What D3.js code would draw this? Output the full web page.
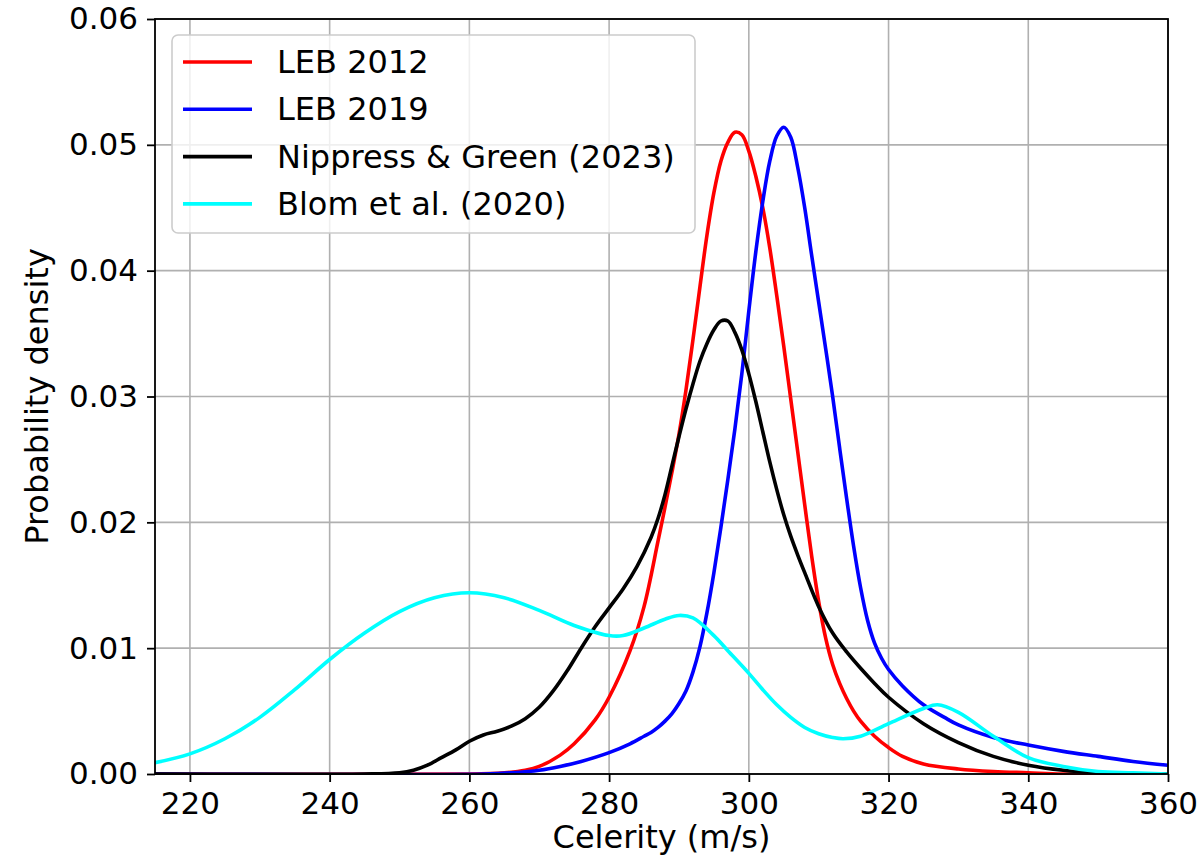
<!DOCTYPE html>
<html>
<head>
<meta charset="utf-8">
<script src="https://cdn.jsdelivr.net/npm/d3@7"></script>
<style>
  body { margin: 0; background: #fff; }
  text { font-family: "DejaVu Sans", sans-serif; fill: #000; }
</style>
</head>
<body>
<div id="chart"></div>
<script>
// celerity (m/s) , probability density
const leb2012 = [[215,0],[260,0],[265,0.0001],[268,0.0003],[270,0.0006],[273,0.0015],[275,0.0024],[278,0.0043],
  [280,0.0061],[283,0.0098],[285,0.0133],[287,0.0185],[288,0.0212],[289,0.0240],[290,0.0270],[291,0.0305],
  [292,0.0345],[293,0.0387],[294,0.0428],[295,0.0462],[296,0.0487],[297,0.0502],[298,0.0510],[299,0.0508],
  [300,0.0495],[301,0.0475],[302,0.0450],[303,0.0418],[304,0.0380],[305,0.0340],[306,0.0298],[307,0.0256],
  [308,0.0214],[309,0.0173],[310,0.0137],[311,0.0108],[312,0.0087],[313,0.0072],[314,0.0060],[315,0.0050],
  [316,0.0042],[318,0.0030],[320,0.0021],[322,0.0014],[325,0.0008],[330,0.0004],[335,0.0002],[340,0.0001],
  [345,0],[360,0]];

const leb2019 = [[215,0],[262,0],[266,0.0001],[270,0.0003],[273,0.0006],[276,0.0010],[280,0.0017],[283,0.0024],
  [285,0.0030],[286,0.0033],[287,0.0037],[288,0.0042],[289,0.0048],[290,0.0056],[291,0.0066],[292,0.0081],
  [293,0.0101],[294,0.0128],[295,0.0160],[296,0.0196],[297,0.0234],[298,0.0274],[299,0.0318],[300,0.0368],
  [301,0.0415],[302,0.0455],[303,0.0487],[304,0.0507],[305,0.0514],[306,0.0506],[307,0.0482],[308,0.0450],
  [309,0.0412],[310,0.0375],[311,0.0338],[312,0.0300],[313,0.0259],[314,0.0219],[315,0.0181],[316,0.0148],
  [317,0.0122],[318,0.0104],[319,0.0092],[320,0.0083],[322,0.0070],[325,0.0055],[328,0.0045],[330,0.0039],
  [335,0.0029],[340,0.0023],[345,0.0018],[350,0.0014],[355,0.0010],[360,0.0007]];

const nippress = [[215,0],[245,0],[250,0.0001],[252,0.0003],[254,0.0007],[256,0.0013],[258,0.0019],[260,0.0026],
  [262,0.0031],[264,0.0034],[266,0.0038],[268,0.0044],[270,0.0053],[272,0.0066],[274,0.0082],[276,0.0100],
  [278,0.0117],[280,0.0132],[282,0.0147],[284,0.0165],[286,0.0188],[287,0.0203],[288,0.0222],[289,0.0245],
  [290,0.0268],[291,0.0290],[292,0.0310],[293,0.0328],[294,0.0342],[295,0.0353],[296,0.0360],[297,0.0360],
  [298,0.0351],[299,0.0337],[300,0.0318],[301,0.0296],[302,0.0272],[303,0.0248],[304,0.0226],[305,0.0206],
  [306,0.0189],[307,0.0174],[308,0.0160],[310,0.0133],[312,0.0112],[314,0.0097],[316,0.0084],[318,0.0072],
  [320,0.0061],[325,0.0040],[330,0.0025],[335,0.0014],[340,0.0007],[345,0.0003],[350,0.0001],[355,0],[360,0]];

const blom = [[215,0.0009],[220,0.0016],[225,0.0028],[230,0.0045],[235,0.0067],[240,0.0091],[245,0.0112],
  [250,0.0129],[255,0.0140],[260,0.0144],[265,0.0140],[270,0.0130],[275,0.0118],[280,0.0110],[282,0.0110],
  [285,0.0116],[288,0.0123],[290,0.0126],[292,0.0124],[295,0.0110],[297,0.0098],[300,0.0080],[302,0.0067],
  [304,0.0055],[306,0.0045],[308,0.0037],[310,0.0032],[312,0.0029],[313.5,0.0028],[316,0.0030],[320,0.0040],
  [325,0.0052],[327,0.0055],[330,0.0049],[335,0.0030],[340,0.0013],[345,0.0006],[350,0.0002],[355,0.0001],
  [360,0]];

const seriesNames = ["LEB 2012", "LEB 2019", "Nippress & Green (2023)", "Blom et al. (2020)"];
const seriesColors = ["#ff0000", "#0000ff", "#000000", "#00ffff"];
const xTicks = [220, 240, 260, 280, 300, 320, 340, 360];
const yTicks = [0, 0.01, 0.02, 0.03, 0.04, 0.05, 0.06];

const allSeries = [leb2012, leb2019, nippress, blom];

margin = ({top: 19, right: 36, bottom: 87, left: 155});
visWidth = 1204 - margin.left - margin.right;
visHeight = 861 - margin.top - margin.bottom;

const svg = d3.select("#chart").append("svg")
  .attr("width", 1204)
  .attr("height", 861);

x = d3.scaleLinear().domain([215, 360]).range([0, visWidth]);
y = d3.scaleLinear().domain([0, 0.06]).range([visHeight, 0]);

const g = svg.append("g")
  .attr("transform", `translate(${margin.left}, ${margin.top})`);

// grid
g.append("g").selectAll("line").data(xTicks).enter().append("line")
  .attr("x1", d => x(d)).attr("x2", d => x(d))
  .attr("y1", 0).attr("y2", visHeight)
  .attr("stroke", "#b0b0b0").attr("stroke-width", 1.6);
g.append("g").selectAll("line").data(yTicks).enter().append("line")
  .attr("x1", 0).attr("x2", visWidth)
  .attr("y1", d => y(d)).attr("y2", d => y(d))
  .attr("stroke", "#b0b0b0").attr("stroke-width", 1.6);

// lines
svg.append("clipPath").attr("id", "clip")
  .append("rect").attr("width", visWidth).attr("height", visHeight + 2).attr("y", -1);

const line = d3.line()
  .x(d => x(d[0]))
  .y(d => y(Math.max(0, d[1])))
  .curve(d3.curveCatmullRom.alpha(0.5));

g.append("g").attr("clip-path", "url(#clip)")
  .selectAll("path").data(allSeries).enter().append("path")
  .attr("d", line)
  .attr("fill", "none")
  .attr("stroke", (d, i) => seriesColors[i])
  .attr("stroke-width", 3.6)
  .attr("stroke-linejoin", "round");

// axes
const xAxis = g.append("g")
  .attr("transform", "translate(0," + visHeight + ")")
  .call(d3.axisBottom(x).tickValues(xTicks).tickSize(8).tickPadding(10).tickFormat(d3.format("d")));
const yAxis = g.append("g")
  .call(d3.axisLeft(y).tickValues(yTicks).tickSize(8).tickPadding(9).tickFormat(d3.format(".2f")));

[xAxis, yAxis].forEach(a => {
  a.select(".domain").remove();
  a.selectAll(".tick line").attr("stroke", "#000").attr("stroke-width", 1.8);
  a.selectAll(".tick text").style("font-size", "31px").style("font-family", "DejaVu Sans");
});

// frame
g.append("rect")
  .attr("width", visWidth).attr("height", visHeight)
  .attr("fill", "none").attr("stroke", "#000").attr("stroke-width", 1.8);

// axis labels
svg.append("text")
  .attr("x", margin.left + visWidth / 2)
  .attr("y", 848)
  .attr("text-anchor", "middle")
  .style("font-size", "32px")
  .text("Celerity (m/s)");

svg.append("text")
  .attr("transform", "translate(48," + (margin.top + visHeight / 2) + ") rotate(-90)")
  .attr("text-anchor", "middle")
  .style("font-size", "32px")
  .text("Probability density");

// legend
const legend = svg.append("g");
legend.append("rect")
  .attr("x", 172).attr("y", 35)
  .attr("width", 523).attr("height", 198)
  .attr("rx", 6)
  .attr("fill", "#fff").attr("fill-opacity", 0.8)
  .attr("stroke", "#cccccc").attr("stroke-width", 1.6);

seriesNames.forEach((name, i) => {
  const ly = 62 + i * 47.3;
  legend.append("line")
    .attr("x1", 183).attr("x2", 252)
    .attr("y1", ly).attr("y2", ly)
    .attr("stroke", seriesColors[i]).attr("stroke-width", 3.6);
  legend.append("text")
    .attr("x", 277).attr("y", ly)
    .attr("dominant-baseline", "central")
    .style("font-size", "32px")
    .text(name);
});
</script>
</body>
</html>
